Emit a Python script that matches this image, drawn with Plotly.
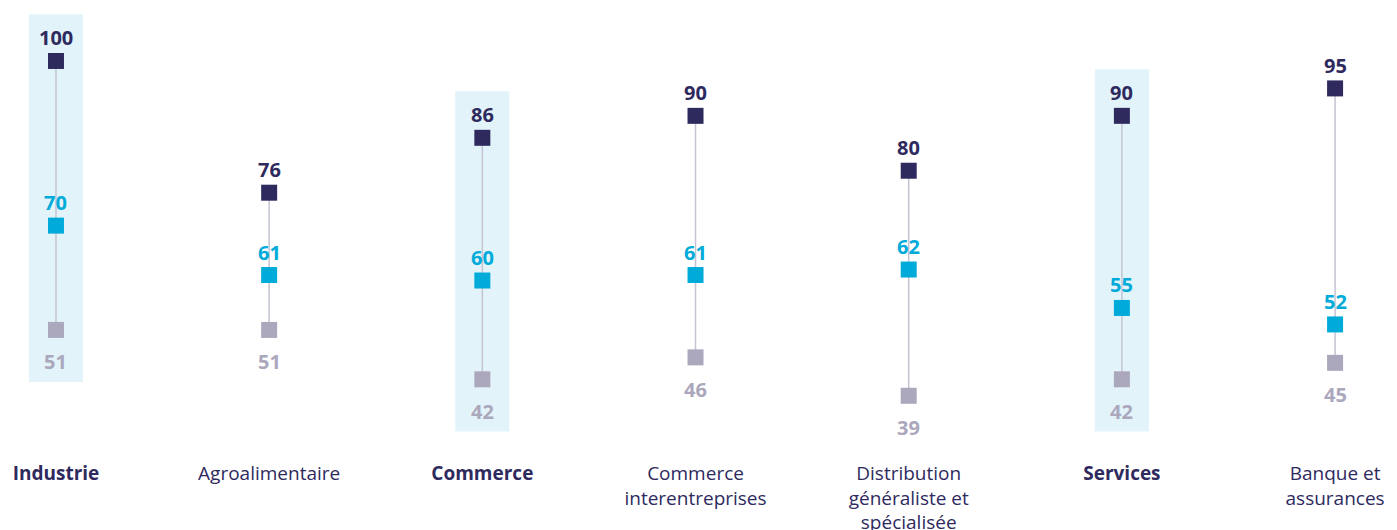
import plotly.graph_objects as go

categories = ["<b>Industrie</b>", "Agroalimentaire", "<b>Commerce</b>",
              "Commerce<br>interentreprises", "Distribution<br>généraliste et<br>spécialisée",
              "<b>Services</b>", "Banque et<br>assurances"]
highlighted = [True, False, True, False, False, True, False]
top_vals = [100, 76, 86, 90, 80, 90, 95]
mid_vals = [70, 61, 60, 61, 62, 55, 52]
low_vals = [51, 51, 42, 46, 39, 42, 45]

NAVY = "#2e2a5e"
CYAN = "#00abd9"
GREY = "#aba7bd"
FONT = "Open Sans"

x = list(range(len(categories)))
fig = go.Figure()

# highlight bands
for i, h in enumerate(highlighted):
    if h:
        fig.add_shape(type="rect", x0=i - 0.127, x1=i + 0.127,
                      y0=min(top_vals[i], mid_vals[i], low_vals[i]) - 9.5,
                      y1=max(top_vals[i], mid_vals[i], low_vals[i]) + 8.5,
                      fillcolor="#e2f3fa", line_width=0, layer="below")

# connecting lines
lx, ly = [], []
for i in x:
    lx += [i, i, None]
    ly += [low_vals[i], top_vals[i], None]
fig.add_trace(go.Scatter(x=lx, y=ly, mode="lines", line=dict(color="#c5c3d3", width=1.5),
                         hoverinfo="skip", showlegend=False))

for vals, col, shift in [(low_vals, GREY, -32), (mid_vals, CYAN, 23), (top_vals, NAVY, 23)]:
    fig.add_trace(go.Scatter(x=x, y=vals, mode="markers",
                             marker=dict(symbol="square", size=16, color=col),
                             showlegend=False))
    for i, v in enumerate(vals):
        fig.add_annotation(x=i, y=v, text=f"<b>{v}</b>", showarrow=False, yshift=shift,
                           font=dict(family=FONT, size=20, color=col))

fig.update_layout(
    width=1397, height=530, margin=dict(l=0, r=0, t=0, b=78),
    plot_bgcolor="white", paper_bgcolor="white",
    font=dict(family=FONT, size=19, color=NAVY),
    xaxis=dict(range=[-0.225, 6.328], tickvals=x, ticktext=categories,
               showgrid=False, zeroline=False, showline=False, ticks=""),
    yaxis=dict(range=[27.3, 109.65], visible=False),
)
fig.write_html("out.html")
